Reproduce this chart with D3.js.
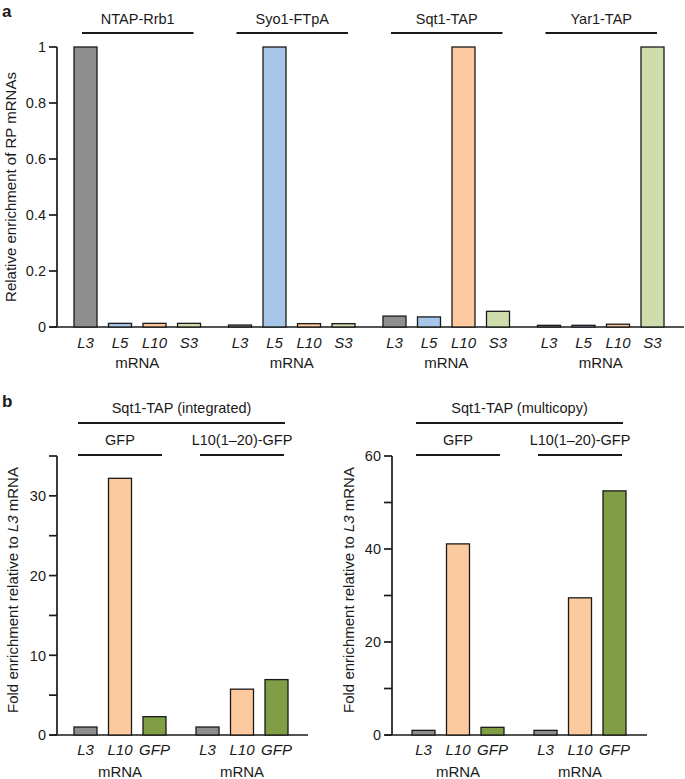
<!DOCTYPE html>
<html><head><meta charset="utf-8">
<script src="https://cdn.jsdelivr.net/npm/d3@7"></script>
<style>body{margin:0;background:#fff}svg{display:block}text{font-family:"Liberation Sans",Arial,sans-serif;fill:#1a1a1a}</style>
</head><body><svg id="c" width="685" height="779"></svg>
<script>
// ---- Data ----
const aGroups = ["NTAP-Rrb1", "Syo1-FTpA", "Sqt1-TAP", "Yar1-TAP"];
const aMrna = ["L3", "L5", "L10", "S3"];
const aValues = [
  [1.0, 0.013, 0.013, 0.013],
  [0.007, 1.0, 0.012, 0.012],
  [0.039, 0.036, 1.0, 0.056],
  [0.006, 0.006, 0.01, 1.0]
];
const aTicks = [0, 0.2, 0.4, 0.6, 0.8, 1];

const bMrna = ["L3", "L10", "GFP"];
const bSubGroups = ["GFP", "L10(1–20)-GFP"];
const bIntTitle = "Sqt1-TAP (integrated)";
const bIntValues = [[1.0, 32.2, 2.3], [1.0, 5.75, 6.95]];
const bIntTicks = [0, 5, 10, 15, 20, 25, 30, 35];
const bIntLabels = [0, 10, 20, 30];
const bMulTitle = "Sqt1-TAP (multicopy)";
const bMulValues = [[1.0, 41.1, 1.65], [1.0, 29.5, 52.5]];
const bMulTicks = [0, 10, 20, 30, 40, 50, 60];
const bMulLabels = [0, 20, 40, 60];

const colA = {L3: "#8e8e8e", L5: "#a5c6e9", L10: "#fcca9e", S3: "#cfddac"};
const colB = {L3: "#8e8e8e", L10: "#fcca9e", GFP: "#7f9e46"};

const svg = d3.select("#c");
const STROKE = "#1a1a1a";

function axisY(g, y, x, ticks, labels, top, bottom) {
  g.append("line").attr("x1", x).attr("x2", x).attr("y1", y(top)).attr("y2", y(bottom))
    .attr("stroke", STROKE).attr("stroke-width", 1.7);
  ticks.forEach(t => {
    g.append("line").attr("x1", x - 8).attr("x2", x).attr("y1", y(t)).attr("y2", y(t))
      .attr("stroke", STROKE).attr("stroke-width", 1.7);
    if (labels.includes(t)) g.append("text").attr("x", x - 11).attr("y", y(t)).attr("dy", "0.36em")
      .attr("text-anchor", "end").attr("font-size", 14.5).text(t);
  });
}

function bars(g, outer, inner, y, groups, mrna, values, col) {
  groups.forEach((gr, i) => {
    mrna.forEach((m, j) => {
      const x = outer(gr) + inner(m);
      g.append("rect").attr("x", x).attr("width", inner.bandwidth())
        .attr("y", y(values[i][j])).attr("height", y(0) - y(values[i][j]))
        .attr("fill", col[m]).attr("stroke", STROKE).attr("stroke-width", 1.3);
    });
  });
}

function xLabels(g, outer, inner, groups, mrna, yTick, yM) {
  groups.forEach(gr => {
    mrna.forEach(m => {
      g.append("text").attr("x", outer(gr) + inner(m) + inner.bandwidth() / 2).attr("y", yTick)
        .attr("text-anchor", "middle").attr("font-size", 15).attr("font-style", "italic").text(m);
    });
    g.append("text").attr("x", outer(gr) + outer.bandwidth() / 2).attr("y", yM)
      .attr("text-anchor", "middle").attr("font-size", 15).text("mRNA");
  });
}

function header(g, x1, x2, yText, yLine, label) {
  g.append("text").attr("x", (x1 + x2) / 2).attr("y", yText).attr("text-anchor", "middle")
    .attr("font-size", 14.5).text(label);
  g.append("line").attr("x1", x1).attr("x2", x2).attr("y1", yLine).attr("y2", yLine)
    .attr("stroke", STROKE).attr("stroke-width", 1.8);
}

// ---- Panel a ----
const ga = svg.append("g");
const ya = d3.scaleLinear().domain([0, 1]).range([327, 47]);
const xaO = d3.scaleBand().domain(aGroups).range([74, 664]).paddingInner(0.181).paddingOuter(0);
const xaI = d3.scaleBand().domain(aMrna).range([0, xaO.bandwidth()]).paddingInner(1/3).paddingOuter(0);
ga.append("line").attr("x1", 50).attr("x2", 684).attr("y1", ya(0)).attr("y2", ya(0))
  .attr("stroke", STROKE).attr("stroke-width", 1.7);
axisY(ga, ya, 57, aTicks, aTicks, 1, 0);
bars(ga, xaO, xaI, ya, aGroups, aMrna, aValues, colA);
xLabels(ga, xaO, xaI, aGroups, aMrna, 348, 368);
aGroups.forEach(gr => header(ga, xaO(gr) + 8, xaO(gr) + xaO.bandwidth() - 7, 24, 33, gr));
ga.append("text").attr("transform", "translate(16,187) rotate(-90)").attr("text-anchor", "middle")
  .attr("font-size", 15).text("Relative enrichment of RP mRNAs");
svg.append("text").attr("x", 2).attr("y", 17).attr("font-size", 17).attr("font-weight", "bold").text("a");
svg.append("text").attr("x", 2).attr("y", 407).attr("font-size", 17).attr("font-weight", "bold").text("b");

// ---- Panel b ----
function panelB(x0, x1, axisX, axisEnd, max, ticks, labels, title, values, labelX) {
  const g = svg.append("g");
  const y = d3.scaleLinear().domain([0, max]).range([735, 456]);
  const xO = d3.scaleBand().domain(bSubGroups).range([x0, x1]).paddingInner(0.246).paddingOuter(0);
  const xI = d3.scaleBand().domain(bMrna).range([0, xO.bandwidth()]).paddingInner(1/3).paddingOuter(0);
  g.append("line").attr("x1", axisX - 7).attr("x2", axisEnd).attr("y1", y(0)).attr("y2", y(0))
    .attr("stroke", STROKE).attr("stroke-width", 1.7);
  axisY(g, y, axisX, ticks, labels, max, 0);
  bars(g, xO, xI, y, bSubGroups, bMrna, values, colB);
  xLabels(g, xO, xI, bSubGroups, bMrna, 755, 777);
  header(g, x0 + 4, x1 - 3, 413, 423, title);
  bSubGroups.forEach(sg => header(g, xO(sg) + 4, xO(sg) + xO.bandwidth() - 4, 445, 455, sg));
  const t = g.append("text").attr("transform", `translate(${labelX},590) rotate(-90)`)
    .attr("text-anchor", "middle").attr("font-size", 15);
  t.append("tspan").text("Fold enrichment relative to ");
  t.append("tspan").attr("font-style", "italic").text("L3");
  t.append("tspan").text(" mRNA");
}
panelB(74, 288, 57, 308, 35, bIntTicks, bIntLabels, bIntTitle, bIntValues, 18);
panelB(412, 626, 392, 647, 60, bMulTicks, bMulLabels, bMulTitle, bMulValues, 354);
</script></body></html>
